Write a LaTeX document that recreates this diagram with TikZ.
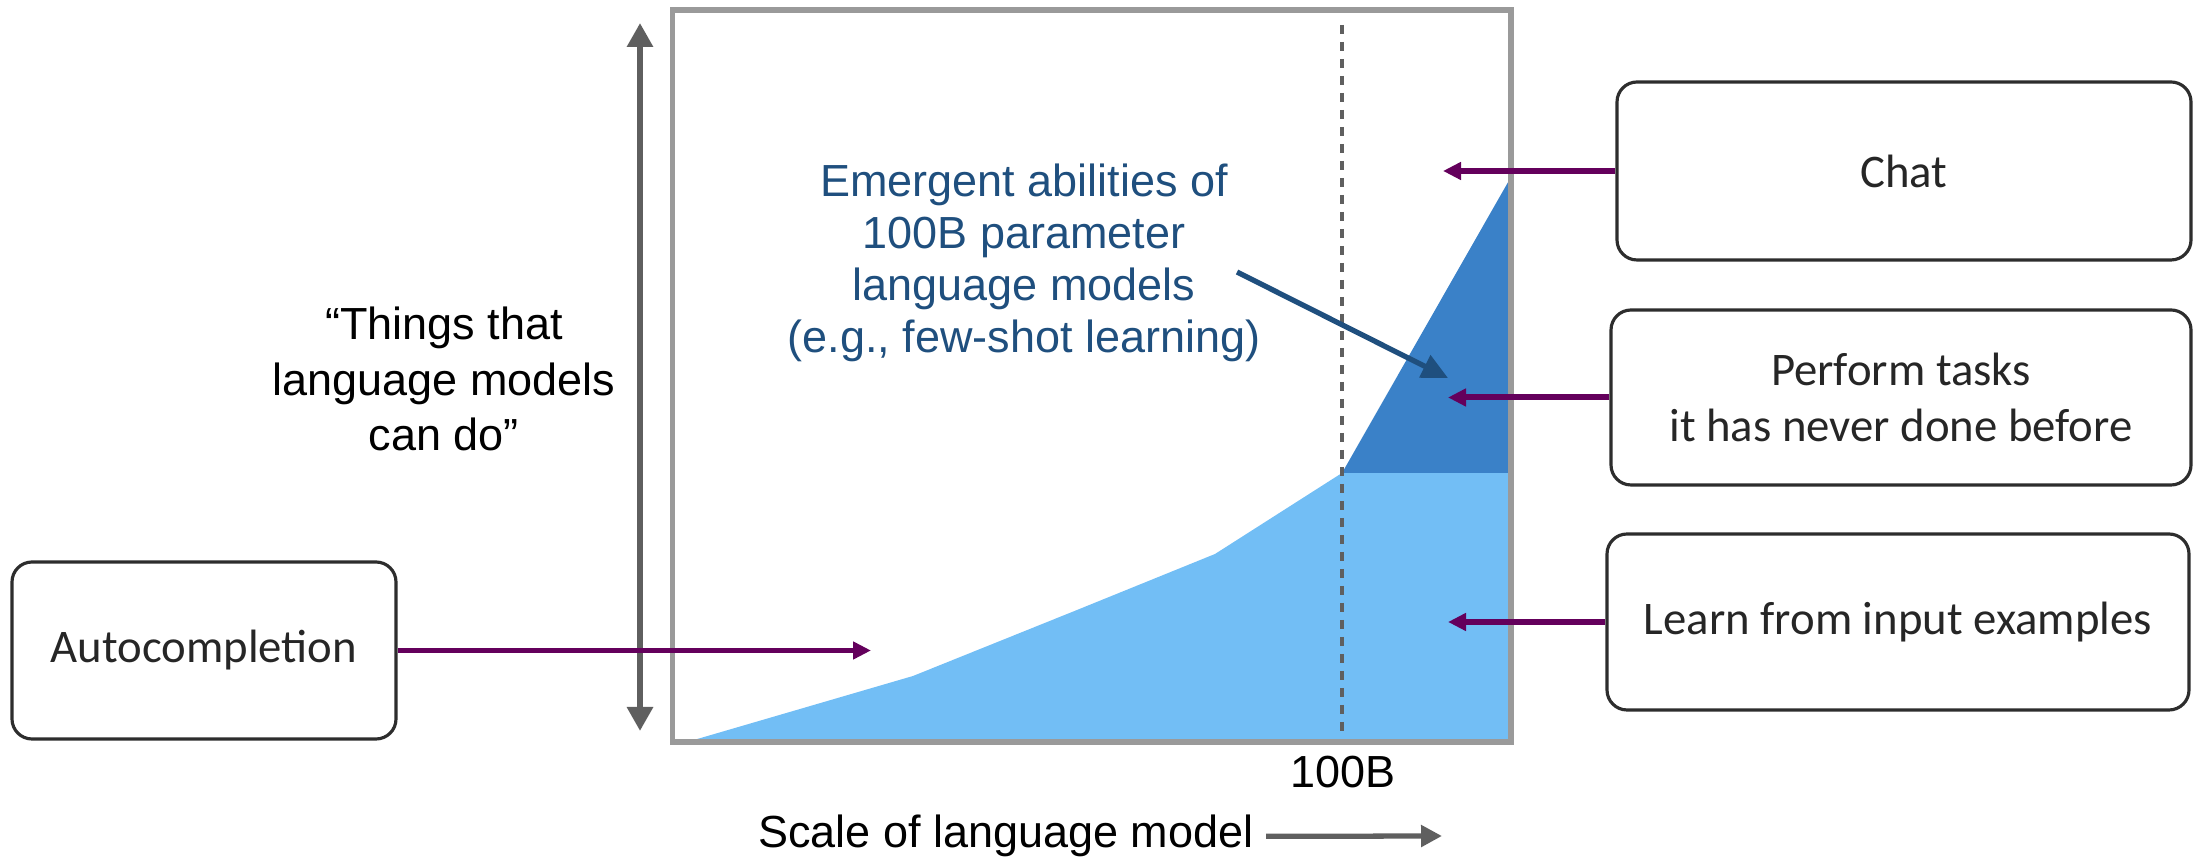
\documentclass[tikz,border=0pt]{standalone}
\usepackage{fontspec}
\setmainfont{Liberation Sans}
\newfontfamily\boxfont{Carlito}
\usetikzlibrary{arrows.meta}

\definecolor{lightblue}{RGB}{114,190,245}
\definecolor{darkblue}{RGB}{58,129,200}
\definecolor{textblue}{RGB}{31,79,126}
\definecolor{axisgray}{RGB}{95,95,95}
\definecolor{framegray}{RGB}{154,154,154}
\definecolor{arrowpurple}{RGB}{100,0,92}
\definecolor{boxtext}{RGB}{38,38,38}
\definecolor{boxline}{RGB}{45,45,45}

\begin{document}
\begin{tikzpicture}[
  box/.style={shape=rectangle, draw=boxline, line width=0.9pt, rounded corners=0.2cm, text=boxtext, align=center, font=\boxfont\fontsize{13.3}{15.7}\selectfont},
  axistext/.style={align=center, font=\fontsize{12.8}{15.9}\selectfont},
  pointer/.style={-{Triangle[length=0.18cm, width=0.17cm]}, line width=1.7pt, draw=arrowpurple},
  axisarrow/.style={line width=1.7pt, draw=axisgray},
]
\useasboundingbox (0,0) rectangle (21.94,8.58);

% plot area
\fill[lightblue] (6.87,1.16) -- (9.13,1.82) -- (10.77,2.48) -- (12.15,3.04) -- (13.42,3.85) -- (15.11,3.85) -- (15.11,1.16) -- cycle;
\fill[darkblue] (13.42,3.85) -- (15.11,6.81) -- (15.11,3.85) -- cycle;
\draw[framegray, line width=1.5pt] (6.725,1.16) rectangle (15.11,8.48);
\draw[axisgray, line width=1.3pt, dash pattern=on 0.09cm off 0.08cm] (13.42,8.33) -- (13.42,1.26);

% axes
\coordinate (ytop) at (6.40,8.35);
\coordinate (ybot) at (6.40,1.27);
\path (ytop) edge[axisarrow, {Triangle[length=0.24cm, width=0.25cm]}-{Triangle[length=0.24cm, width=0.25cm]}] (ybot);
\node[axistext] (things) at (4.44,4.79) {“Things that\\language models\\can do”};
\node[axistext, anchor=base] (hundred) at (13.43,0.70) {100B};
\node[axistext, anchor=base] (scale) at (10.06,0.10) {Scale of language model};
\coordinate (scaleend) at (14.42,0.22);
\path (scale.east) edge[axisarrow, line width=1.5pt, -{Triangle[length=0.21cm, width=0.21cm]}] (scaleend);

% emergent abilities
\node[axistext, text=textblue, font=\fontsize{12.8}{14.8}\selectfont] (emergent) at (10.24,5.95) {Emergent abilities of\\100B parameter\\language models\\(e.g., few-shot learning)};
\coordinate (emstart) at (12.37,5.86);
\coordinate (emtip) at (14.48,4.80);
\path (emstart) edge[-{Triangle[length=0.26cm, width=0.24cm]}, line width=1.5pt, draw=textblue] (emtip);

% boxes
\node[box, minimum width=3.84cm, minimum height=1.77cm] (auto) at (2.04,2.075) {Autocompletion};
\node[box, minimum width=5.74cm, minimum height=1.78cm] (chat) at (19.04,6.87) {Chat};
\node[box, minimum width=5.80cm, minimum height=1.75cm] (perform) at (19.01,4.605) {Perform tasks\\it has never done before};
\node[box, minimum width=5.82cm, minimum height=1.76cm] (learn) at (18.98,2.36) {Learn from input examples};

\coordinate (autotip) at (8.71,2.075);
\coordinate (chattip) at (14.43,6.87);
\coordinate (performtip) at (14.48,4.605);
\coordinate (learntip) at (14.48,2.36);
\path (auto) edge[pointer] (autotip);
\path (chat) edge[pointer] (chattip);
\path (perform) edge[pointer] (performtip);
\path (learn) edge[pointer] (learntip);
\end{tikzpicture}
\end{document}
